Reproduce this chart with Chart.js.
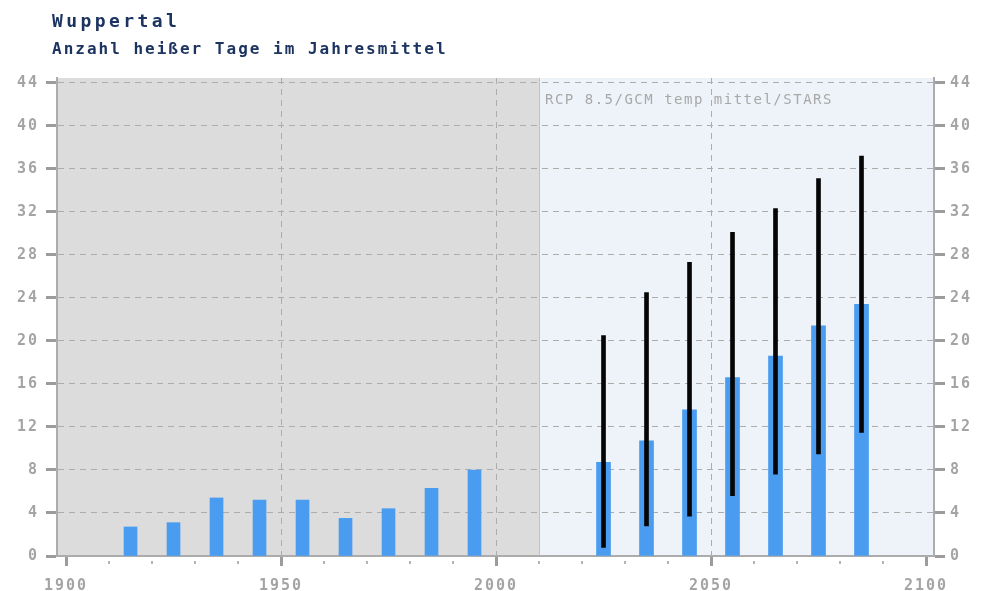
<!DOCTYPE html>
<html>
<head>
<meta charset="utf-8">
<script src="https://cdn.jsdelivr.net/npm/chart.js@4/dist/chart.umd.min.js"></script>
<style>
	body { margin: 0; background: #fff; }
	#wrap { position: relative; width: 981px; height: 591px; }
	.head { position: absolute; left: 52px; font-family: "DejaVu Sans Mono", monospace; font-weight: bold; color: #1d3461; white-space: nowrap; }
	#title { top: 10px; font-size: 18px; letter-spacing: 3.4px; }
	#subtitle { top: 39px; font-size: 16px; letter-spacing: 2px; }
	canvas { position: absolute; left: 0; top: 0; }
</style>
</head>
<body>
<div id="wrap">
	<canvas id="hot-days" width="981" height="591"></canvas>
	<div class="head" id="title">Wuppertal</div>
	<div class="head" id="subtitle">Anzahl heißer Tage im Jahresmittel</div>
</div>
<script>
// observed decades
const histYears = [1915, 1925, 1935, 1945, 1955, 1965, 1975, 1985, 1995];
const histValues = [2.7, 3.1, 5.4, 5.2, 5.2, 3.5, 4.4, 6.3, 8.0];

// scenario decades: mean plus model range
const projYears = [2025, 2035, 2045, 2055, 2065, 2075, 2085];
const projMean = [8.7, 10.7, 13.6, 16.6, 18.6, 21.4, 23.4];
const projLow = [0.8, 2.8, 3.7, 5.6, 7.6, 9.5, 11.5];
const projHigh = [20.5, 24.5, 27.3, 30.1, 32.3, 35.1, 37.2];

const yearTicks = [1900, 1910, 1920, 1930, 1940, 1950, 1960, 1970, 1980, 1990, 2000,
	2010, 2020, 2030, 2040, 2050, 2060, 2070, 2080, 2090, 2100];
const dayTicks = [0, 4, 8, 12, 16, 20, 24, 28, 32, 36, 40, 44];
const historyEnd = 2010;
const scenarioLabel = "RCP 8.5/GCM temp mittel/STARS";

const barBlue = "#4a9cf0";
const gridGrey = "#acacac";
const labelGrey = "#a4a4a4";
const monoFont = { family: "'DejaVu Sans Mono', monospace", size: 15, weight: "bold" };

const isMajor = (v) => v % 50 === 0;

const backdrop = {
	id: "backdrop",
	beforeDraw(chart) {
		const { ctx, chartArea: a, scales } = chart;
		const split = scales.x.getPixelForValue(historyEnd);
		ctx.letterSpacing = "2px";
		ctx.save();
		ctx.fillStyle = "#dcdcdc";
		ctx.fillRect(a.left, a.top, split - a.left, a.bottom - a.top);
		ctx.fillStyle = "#eef3f9";
		ctx.fillRect(split, a.top, a.right - split, a.bottom - a.top);
		ctx.strokeStyle = "#c2c2c2";
		ctx.lineWidth = 1;
		ctx.beginPath();
		ctx.moveTo(split + 0.5, a.top);
		ctx.lineTo(split + 0.5, a.bottom);
		ctx.stroke();
		ctx.letterSpacing = "1.5px";
		ctx.fillStyle = "#a8a8a8";
		ctx.font = "14px 'DejaVu Sans Mono', monospace";
		ctx.textBaseline = "middle";
		ctx.fillText(scenarioLabel, split + 6, a.top + 22);
		ctx.restore();
	},
	afterDraw(chart) {
		// short minor ticks every ten years
		const { ctx, chartArea: a, scales } = chart;
		ctx.save();
		ctx.fillStyle = "#b4b4b4";
		yearTicks.filter((v) => !isMajor(v)).forEach((v) => {
			const px = Math.round(scales.x.getPixelForValue(v));
			ctx.fillRect(px - 1, a.bottom + 5, 2, 3);
		});
		ctx.restore();
	}
};

new Chart(document.getElementById("hot-days"), {
	type: "bar",
	data: {
		datasets: [
			{
				label: "Spannweite",
				data: projYears.map((x, i) => ({ x: x, y: [projLow[i], projHigh[i]] })),
				backgroundColor: "#050505",
				barThickness: 4,
				grouped: false,
				order: 0
			},
			{
				label: "Szenario",
				data: projYears.map((x, i) => ({ x: x, y: projMean[i] })),
				backgroundColor: barBlue,
				barThickness: 14,
				grouped: false,
				order: 1
			},
			{
				label: "Beobachtung",
				data: histYears.map((x, i) => ({ x: x, y: histValues[i] })),
				backgroundColor: barBlue,
				barThickness: 13,
				grouped: false,
				order: 1
			}
		]
	},
	options: {
		responsive: false,
		animation: false,
		devicePixelRatio: 1,
		layout: { padding: { top: 78, left: 0, right: 0, bottom: 0 } },
		plugins: {
			legend: { display: false },
			tooltip: { enabled: false },
			title: { display: false }
		},
		scales: {
			x: {
				type: "linear",
				offset: false,
				min: 1897.9,
				max: 2101.86,
				afterBuildTicks: (s) => { s.ticks = yearTicks.map((v) => ({ value: v })); },
				afterFit: (s) => { s.height = 35; },
				grid: {
					offset: false,
					color: (c) => (c.tick && [1950, 2000, 2050].includes(c.tick.value) ? gridGrey : "rgba(0,0,0,0)"),
					tickColor: (c) => (c.tick && isMajor(c.tick.value) ? "#9c9c9c" : "rgba(0,0,0,0)"),
					tickWidth: 3,
					tickLength: 10,
					tickBorderDash: []
				},
				border: { display: true, color: gridGrey, width: 2, dash: [6, 5] },
				ticks: {
					autoSkip: false,
					maxRotation: 0,
					padding: 11,
					color: labelGrey,
					font: monoFont,
					callback: (v) => (isMajor(v) ? String(v) : "")
				}
			},
			y: {
				position: "left",
				min: 0,
				max: 44.45,
				afterBuildTicks: (s) => { s.ticks = dayTicks.map((v) => ({ value: v })); },
				afterFit: (s) => { s.width = 57; },
				grid: {
					color: (c) => (c.tick && c.tick.value === 0 ? "rgba(0,0,0,0)" : gridGrey),
					tickColor: "#9c9c9c",
					tickWidth: 3,
					tickLength: 11,
					tickBorderDash: []
				},
				border: { display: true, color: gridGrey, width: 2, dash: [6, 5] },
				ticks: { padding: 7, color: labelGrey, font: monoFont }
			},
			y2: {
				position: "right",
				min: 0,
				max: 44.45,
				afterBuildTicks: (s) => { s.ticks = dayTicks.map((v) => ({ value: v })); },
				afterFit: (s) => { s.width = 47; },
				grid: {
					drawOnChartArea: false,
					tickColor: "#9c9c9c",
					tickWidth: 3,
					tickLength: 11,
					tickBorderDash: []
				},
				border: { display: true, color: gridGrey, width: 2 },
				ticks: { padding: 5, color: labelGrey, font: monoFont }
			}
		}
	},
	plugins: [backdrop]
});
</script>
</body>
</html>
